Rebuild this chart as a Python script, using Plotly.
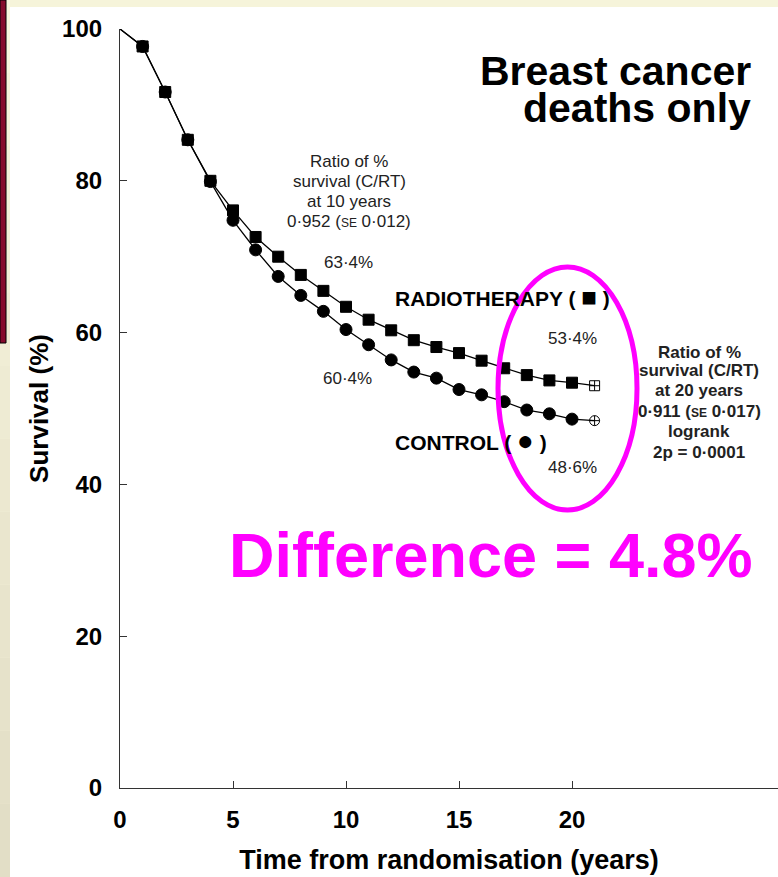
import plotly.graph_objects as go

# ---------------- data ----------------
years = list(range(0, 22))
radiotherapy = [100, 97.7, 91.7, 85.4, 80.0, 76.1, 72.6, 70.0, 67.6, 65.5, 63.4,
                61.7, 60.3, 59.0, 58.1, 57.3, 56.3, 55.3, 54.4, 53.7, 53.4, 53.0]
control = [100, 97.7, 91.7, 85.4, 79.9, 74.8, 70.9, 67.4, 64.9, 62.8, 60.4,
           58.4, 56.4, 54.8, 54.0, 52.5, 51.8, 50.9, 49.8, 49.3, 48.6, 48.4]
x_ticks = [0, 5, 10, 15, 20]
y_ticks = [0, 20, 40, 60, 80, 100]

W, H = 778, 877
L, R, T, B = 120, 0, 29, 89   # plot area: x 120..778, y 29..788
PW, PH = W - L - R, H - T - B

def px(xp):
    return (xp - L) / PW

def py(yp):
    return (H - B - yp) / PH

FONT = "Liberation Sans, Arial, Helvetica, sans-serif"

def symbols(filled, open_):
    return ["circle"] + [filled] * 20 + [open_]

def sizes(s, so):
    return [0] + [s] * 20 + [so]

fig = go.Figure()
fig.add_trace(go.Scatter(
    x=years, y=control, mode="lines+markers",
    line=dict(color="black", width=1.3),
    marker=dict(symbol=symbols("circle", "circle-cross-open"), size=sizes(12, 10),
                color="black", opacity=1, line=dict(color="black", width=1)),
    cliponaxis=False, showlegend=False))
fig.add_trace(go.Scatter(
    x=years, y=radiotherapy, mode="lines+markers",
    line=dict(color="black", width=1.3),
    marker=dict(symbol=symbols("square", "square-cross-open"), size=sizes(11, 10),
                color="black", opacity=1, line=dict(color="black", width=1)),
    cliponaxis=False, showlegend=False))

shapes = []
# white page area over beige
shapes.append(dict(type="rect", xref="paper", yref="paper", layer="below",
                   x0=px(10), x1=px(W + 5), y0=py(H + 5), y1=py(7),
                   fillcolor="white", line=dict(width=0)))
# left strip gradient
n = 12
for i in range(n):
    t = i / (n - 1)
    r = int(248 - 22 * t); g = int(246 - 24 * t); b = int(222 - 24 * t)
    shapes.append(dict(type="rect", xref="paper", yref="paper", layer="below",
                       x0=px(0), x1=px(10), y0=py(H * (i + 1) / n), y1=py(H * i / n),
                       fillcolor=f"rgb({r},{g},{b})", line=dict(width=0)))
# dark red bar
shapes.append(dict(type="rect", xref="paper", yref="paper", layer="above",
                   x0=px(0), x1=px(6), y0=py(343), y1=py(0),
                   fillcolor="#850b2c", line=dict(color="black", width=1)))
# magenta ellipse
shapes.append(dict(type="circle", xref="paper", yref="paper", layer="above",
                   x0=px(498), x1=px(637), y0=py(510), y1=py(267),
                   line=dict(color="#ff00ff", width=5)))

ann = []
def text(x, y, s, size, bold=False, color="black", xanchor="center"):
    ann.append(dict(x=px(x), y=py(y), xref="paper", yref="paper", text=s,
                    showarrow=False, xanchor=xanchor, yanchor="middle",
                    font=dict(family=FONT, size=size, color=color,
                              weight="bold" if bold else "normal")))

SE = "<span style='font-size:12px'>SE</span>"
text(753, 71, "Breast cancer", 41, True, xanchor="right")
text(753, 108, "deaths only", 41, True, xanchor="right")

for yy, s in zip([162, 182, 201, 221],
                 ["Ratio of %", "survival (C/RT)", "at 10 years", f"0·952 ({SE} 0·012)"]):
    text(349, yy, s, 17, color="#222")
text(348, 262, "63·4%", 17, color="#222")
text(347, 378, "60·4%", 17, color="#222")
text(393, 297, "RADIOTHERAPY ( <span style='font-size:26px'>■</span> )", 21, True, xanchor="left")
text(393, 440, "CONTROL ( <span style='font-size:28px'>●</span> )", 21, True, xanchor="left")
text(572, 338, "53·4%", 17, color="#222")
text(572, 467, "48·6%", 17, color="#222")
for yy, s in zip([352, 371, 391, 411, 431, 452],
                 ["Ratio of %", "survival (C/RT)", "at 20 years", f"0·911 ({SE} 0·017)",
                  "logrank", "2p = 0·0001"]):
    text(699, yy, s, 17, True, color="#222")
text(491, 555, "Difference = 4.8%", 63, True, color="#ff00ff")

fig.update_layout(
    width=W, height=H, margin=dict(l=L, r=R, t=T, b=B),
    paper_bgcolor="rgb(246,244,218)", plot_bgcolor="white",
    shapes=shapes, annotations=ann,
    xaxis=dict(range=[0, PW / 22.6], tickvals=x_ticks, ticks="inside", ticklen=7,
               tickcolor="#333", showline=True, linecolor="#333", linewidth=1.2,
               showgrid=False, zeroline=False, ticklabelstandoff=10,
               tickfont=dict(family=FONT, size=24, color="black", weight="bold"),
               title=dict(text="Time from randomisation (years)", standoff=18,
                          font=dict(family=FONT, size=27, color="black", weight="bold"))),
    yaxis=dict(range=[0, 100], tickvals=y_ticks, ticks="inside", ticklen=7,
               tickcolor="#333", showline=True, linecolor="#333", linewidth=1.2,
               showgrid=False, zeroline=False, ticklabelstandoff=12,
               tickfont=dict(family=FONT, size=24, color="black", weight="bold"),
               title=dict(text="Survival (%)", standoff=5,
                          font=dict(family=FONT, size=26, color="black", weight="bold"))),
)
fig.write_html("out.html")
